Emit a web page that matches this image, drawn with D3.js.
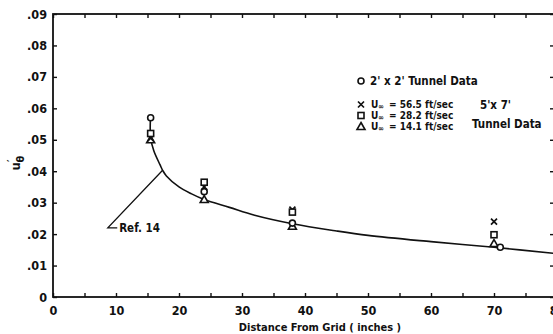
<!DOCTYPE html>
<html>
<head>
<meta charset="utf-8">
<script src="https://cdn.jsdelivr.net/npm/d3@7"></script>
<style>
  body { margin: 0; background: #fff; }
  svg { display: block; }
  text { font-family: 'DejaVu Sans Condensed', 'Liberation Sans Narrow', sans-serif; font-weight: bold; fill: #111; }
</style>
</head>
<body>
<svg id="chart" width="553" height="334"></svg>
<script>
// turbulence decay vs distance from grid
const xTicks = [0, 10, 20, 30, 40, 50, 60, 70, 80];
const yTicks = [0, 0.01, 0.02, 0.03, 0.04, 0.05, 0.06, 0.07, 0.08, 0.09];
const yTickLabels = ['0', '.01', '.02', '.03', '.04', '.05', '.06', '.07', '.08', '.09'];

const circleX = [15.5, 24, 38, 71];
const circleY = [0.057, 0.0335, 0.0235, 0.0158];   // 2' x 2' tunnel
const stationX = [15.5, 24, 38, 70];
const crossY = [0.0505, 0.035, 0.0278, 0.024];     // U = 56.5
const squareY = [0.052, 0.0365, 0.027, 0.0198];    // U = 28.2
const triY = [0.050, 0.031, 0.0225, 0.017];        // U = 14.1

// Ref. 14 curve
const refX = [15.45, 15.5, 16, 17, 17.4, 18, 20, 22, 24, 28, 32, 38, 45, 50, 60, 70, 80];
const refY = [0.056, 0.0505, 0.0465, 0.042, 0.0403, 0.0385, 0.035, 0.0328, 0.031, 0.0285, 0.026, 0.0233, 0.021, 0.0196, 0.0176, 0.0158, 0.0138];

const svg = d3.select('#chart'),
  margin = { top: 14, right: -4, bottom: 37, left: 53 },
  W = +svg.attr('width') - margin.left - margin.right,
  H = +svg.attr('height') - margin.top - margin.bottom;

const g = svg.append('g').attr('transform', `translate(${margin.left},${margin.top})`);

const x = d3.scaleLinear().domain([0, 80]).range([0, W]);
const y = d3.scaleLinear().domain([0, 0.09]).range([H, 0]);

const minor = d3.range(0, 81, 5);

// frame
g.append('rect')
  .attr('width', W).attr('height', H)
  .attr('fill', 'none').attr('stroke', '#111').attr('stroke-width', 1.8);

// bottom ticks (inward) + labels
g.append('g')
  .attr('transform', `translate(0,${H})`)
  .call(d3.axisBottom(x).tickValues(minor).tickSize(-4).tickFormat(d => d % 10 === 0 ? d : ''))
  .call(a => a.select('.domain').remove())
  .call(a => a.selectAll('line').attr('stroke', '#111').attr('stroke-width', 1.4))
  .call(a => a.selectAll('text').attr('y', 9).attr('dy', '0.71em').style('font-size', '12.5px').style('font-family', null));

// top ticks (inward)
g.append('g')
  .call(d3.axisTop(x).tickValues(minor).tickSize(-4).tickFormat(''))
  .call(a => a.select('.domain').remove())
  .call(a => a.selectAll('line').attr('stroke', '#111').attr('stroke-width', 1.4));

// left ticks + labels
g.append('g')
  .call(d3.axisLeft(y).tickValues(yTicks).tickSize(-4).tickFormat((d, i) => yTickLabels[i]))
  .call(a => a.select('.domain').remove())
  .call(a => a.selectAll('line').attr('stroke', '#111').attr('stroke-width', 1.4))
  .call(a => a.selectAll('text').attr('x', -6).style('font-size', '12.5px').style('font-family', null));

// right ticks (inward)
g.append('g')
  .attr('transform', `translate(${W},0)`)
  .call(d3.axisRight(y).tickValues(yTicks).tickSize(-7).tickFormat(''))
  .call(a => a.select('.domain').remove())
  .call(a => a.selectAll('line').attr('stroke', '#111').attr('stroke-width', 1.4));

// Ref. 14 curve
const line = d3.line().x(d => x(d[0])).y(d => y(d[1])).curve(d3.curveCatmullRom);
g.append('path')
  .datum(d3.zip(refX, refY))
  .attr('d', line)
  .attr('fill', 'none').attr('stroke', '#111').attr('stroke-width', 1.6);

// leader to Ref. 14
g.append('path')
  .datum([[10.2, 0.022], [8.7, 0.022], [17.4, 0.0403]])
  .attr('d', d3.line().x(d => x(d[0])).y(d => y(d[1])))
  .attr('fill', 'none').attr('stroke', '#111').attr('stroke-width', 1.3);
g.append('text')
  .attr('x', x(10.5)).attr('y', y(0.022)).attr('dy', '0.35em')
  .style('font-size', '11.5px')
  .text('Ref. 14');

// markers
const mk = { stroke: '#111', w: 1.6 };
function circleAt(sel, cx, cy) {
  sel.append('circle').attr('cx', cx).attr('cy', cy).attr('r', 3)
    .attr('fill', '#fff').attr('stroke', mk.stroke).attr('stroke-width', mk.w);
}
function squareAt(sel, cx, cy) {
  sel.append('rect').attr('x', cx - 3).attr('y', cy - 3).attr('width', 6).attr('height', 6)
    .attr('fill', '#fff').attr('stroke', mk.stroke).attr('stroke-width', mk.w);
}
function crossAt(sel, cx, cy) {
  sel.append('path').attr('d', `M${cx - 3},${cy - 3}L${cx + 3},${cy + 3}M${cx + 3},${cy - 3}L${cx - 3},${cy + 3}`)
    .attr('fill', 'none').attr('stroke', mk.stroke).attr('stroke-width', 1.7);
}
function triAt(sel, cx, cy) {
  sel.append('path').attr('d', `M${cx},${cy - 4}L${cx + 4},${cy + 3}L${cx - 4},${cy + 3}Z`)
    .attr('fill', '#fff').attr('stroke', mk.stroke).attr('stroke-width', mk.w);
}

const pts = g.append('g');
stationX.forEach((sx, i) => triAt(pts, x(sx), y(triY[i])));
stationX.forEach((sx, i) => crossAt(pts, x(sx), y(crossY[i])));
stationX.forEach((sx, i) => squareAt(pts, x(sx), y(squareY[i])));
circleX.forEach((cx, i) => circleAt(pts, x(cx), y(circleY[i])));

// legend
const lg = svg.append('g');
circleAt(lg, 361, 81);
lg.append('text').attr('x', 370).attr('y', 81).attr('dy', '0.35em').style('font-size', '11.5px')
  .text("2' x 2' Tunnel Data");

const speeds = ['56.5', '28.2', '14.1'];
const legY = [104.5, 115.5, 126.5];
crossAt(lg, 361, legY[0]);
squareAt(lg, 361, legY[1]);
triAt(lg, 361, legY[2]);
speeds.forEach((s, i) => {
  const t = lg.append('text').attr('x', 371).attr('y', legY[i]).attr('dy', '0.32em').style('font-size', '10px');
  t.append('tspan').text('U');
  t.append('tspan').attr('dy', 1.5).style('font-size', '7.5px').text('∞');
  t.append('tspan').attr('dy', -1.5).attr('x', 389).text(`= ${s} ft/sec`);
});
lg.append('text').attr('x', 480).attr('y', 105).attr('dy', '0.35em').style('font-size', '11.5px').text("5'x 7'");
lg.append('text').attr('x', 472).attr('y', 124).attr('dy', '0.35em').style('font-size', '11.5px').text('Tunnel Data');

// axis titles
svg.append('text')
  .attr('x', 320).attr('y', 331)
  .attr('text-anchor', 'middle')
  .style('font-size', '11px')
  .text('Distance From Grid ( inches )');

const yl = svg.append('text')
  .attr('transform', 'translate(20,163) rotate(-90)')
  .attr('text-anchor', 'middle')
  .style('font-size', '13px');
yl.append('tspan').text('u');
yl.append('tspan').attr('dy', -5).style('font-size', '11px').text('\u2032');
yl.append('tspan').attr('dx', -3).attr('dy', 9).style('font-size', '11px').text('θ');
</script>
</body>
</html>
